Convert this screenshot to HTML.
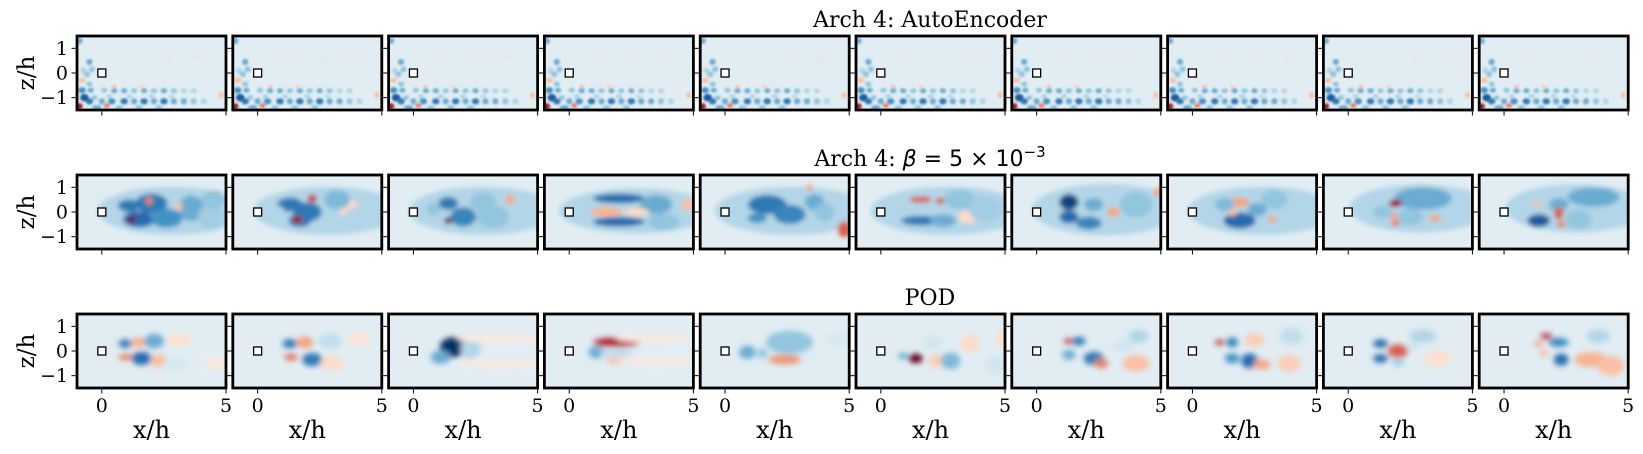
<!DOCTYPE html>
<html><head><meta charset="utf-8">
<style>
html,body{margin:0;padding:0;background:#fff;}
svg{display:block;font-family:"DejaVu Serif","Liberation Serif",serif;}
</style></head>
<body>
<svg id="fig" width="1643" height="454" viewBox="0 0 1643 454" xmlns="http://www.w3.org/2000/svg">
<defs>
<filter id="b1" x="-20%" y="-20%" width="140%" height="140%"><feGaussianBlur stdDeviation="1.0"/></filter>
<filter id="b2" x="-20%" y="-20%" width="140%" height="140%"><feGaussianBlur stdDeviation="2.4"/></filter>
<filter id="b3" x="-20%" y="-20%" width="140%" height="140%"><feGaussianBlur stdDeviation="3.0"/></filter>
</defs>
<text x="930" y="27" font-size="22" text-anchor="middle">Arch 4: AutoEncoder</text>
<text x="930" y="166" font-size="22" text-anchor="middle">Arch 4: <tspan font-style="italic" font-family="DejaVu Sans,sans-serif">β</tspan><tspan font-family="DejaVu Sans,sans-serif"> = 5 × 10</tspan><tspan font-family="DejaVu Sans,sans-serif" font-size="15" dy="-9">−3</tspan></text>
<text x="930" y="305" font-size="22" text-anchor="middle">POD</text>
</svg>
<script>
// blob data: [x/h, z/h, rx, rz, value]
const rowTitles = ["autoencoder","beta","pod"];
const xTicks = [0,5];
const zTicks = [1,0,-1];
const zTickLabels = ["1","0","−1"];
const xTickLabels = ["0","5"];
const bgValue = -0.17;

const aeBlobs = [
 [-0.9,1.3,0.1,0.1,-0.6],[-0.5,0.45,0.1,0.1,-0.6],[-0.4,0.15,0.1,0.1,-0.5],[-0.75,0.1,0.1,0.1,-0.4],[-0.6,-0.05,0.1,0.1,-0.5],
 [-0.8,-0.3,0.12,0.08,0.4],[-0.5,-0.45,0.1,0.08,-0.5],
 [-0.8,-0.7,0.12,0.1,-0.7],[-0.45,-0.7,0.1,0.08,-0.6],[0.1,-0.7,0.1,0.08,-0.5],[0.5,-0.72,0.1,0.08,-0.6],[0.9,-0.72,0.1,0.08,-0.6],[1.3,-0.72,0.1,0.08,-0.5],[1.7,-0.72,0.1,0.08,-0.6],[2.1,-0.72,0.1,0.08,-0.5],[2.5,-0.72,0.1,0.08,-0.6],[2.9,-0.72,0.1,0.08,-0.5],[3.3,-0.72,0.1,0.08,-0.4],[3.7,-0.72,0.1,0.08,-0.4],
 [-0.7,-1.0,0.14,0.12,-0.9],[-0.3,-1.0,0.1,0.08,-0.5],[0.3,-0.95,0.1,0.08,-0.4],[1.1,-0.95,0.1,0.08,-0.4],[2.0,-0.95,0.1,0.08,-0.4],[2.8,-0.95,0.1,0.08,-0.35],
 [-0.5,-1.15,0.12,0.1,-0.8],[0.0,-1.15,0.1,0.1,-0.6],[0.4,-1.15,0.12,0.1,-0.7],[0.9,-1.15,0.12,0.1,-0.8],[1.3,-1.15,0.1,0.1,-0.6],[1.7,-1.15,0.12,0.1,-0.8],[2.1,-1.15,0.1,0.1,-0.6],[2.5,-1.15,0.12,0.1,-0.8],[2.9,-1.15,0.1,0.1,-0.6],[3.3,-1.15,0.1,0.1,-0.6],[3.7,-1.15,0.1,0.1,-0.5],[4.1,-1.15,0.1,0.1,-0.4],
 [-0.9,-1.35,0.1,0.1,0.9],[0.2,-1.32,0.1,0.08,0.6],[-0.2,-1.4,0.15,0.08,-0.6],[0.7,-1.4,0.12,0.08,-0.5],[1.5,-1.4,0.12,0.08,-0.5],[2.3,-1.4,0.12,0.08,-0.5],
 [0.5,-0.55,0.08,0.05,0.4],[1.6,-0.55,0.08,0.05,0.35],[2.7,0.55,0.1,0.04,0.3],[3.8,0.6,0.1,0.04,0.3],[1.2,0.55,0.1,0.04,0.25],[4.8,-0.9,0.08,0.1,0.4]
];

const betaBlobs = [
 [[2.8,0.05,2.3,0.75,-0.4],[1.1,0.25,0.35,0.2,-0.8],[2.0,0.35,0.5,0.3,-0.8],[1.5,-0.3,0.5,0.25,-0.85],[2.6,-0.25,0.5,0.3,-0.7],[3.6,0.15,0.4,0.4,-0.6],[1.9,0.45,0.12,0.12,0.6],[1.2,-0.3,0.15,0.1,1.0],[3.1,0.2,0.12,0.12,0.4],[0.6,0.0,0.15,0.15,-0.4],[4.4,-0.2,0.4,0.4,-0.45],[4.5,0.5,0.35,0.3,-0.5]],
 [[2.8,0.05,2.3,0.75,-0.4],[1.3,0.3,0.4,0.22,-0.8],[2.0,0.0,0.45,0.3,-0.8],[1.7,-0.35,0.35,0.2,-0.8],[2.2,0.55,0.15,0.12,0.8],[1.6,-0.3,0.15,0.12,0.9],[3.7,0.1,0.3,0.3,0.3],[4.1,-0.3,0.5,0.4,-0.4],[0.8,0.0,0.2,0.2,-0.4],[3.2,0.5,0.4,0.3,-0.55]],
 [[2.8,0.05,2.3,0.75,-0.4],[1.4,0.35,0.3,0.2,-0.8],[2.0,-0.2,0.4,0.3,-0.75],[1.4,-0.35,0.12,0.1,1.0],[3.2,-0.2,0.5,0.35,-0.5],[3.9,0.5,0.15,0.15,0.5],[2.8,0.4,0.4,0.3,-0.5],[0.8,0.1,0.2,0.2,-0.5]],
 [[2.7,0.05,2.4,0.7,-0.4],[2.0,0.55,0.8,0.15,-0.85],[2.0,-0.4,0.8,0.15,-0.85],[1.5,0.0,0.5,0.15,0.45],[3.5,0.3,0.5,0.3,-0.6],[4.8,0.3,0.2,0.2,0.4],[2.7,0.0,0.4,0.12,0.3],[3.8,-0.4,0.5,0.25,-0.5]],
 [[2.7,0.05,2.4,0.75,-0.4],[1.7,0.3,0.6,0.3,-0.8],[2.6,-0.1,0.5,0.3,-0.75],[1.3,-0.25,0.3,0.15,-0.7],[3.6,0.4,0.3,0.25,-0.6],[4.8,-0.7,0.2,0.25,0.7],[3.4,1.0,0.1,0.1,0.5],[4.0,0.0,0.3,0.3,-0.5]],
 [[2.7,0.05,2.4,0.75,-0.4],[1.6,0.5,0.35,0.1,0.7],[2.4,0.45,0.15,0.1,0.7],[1.6,-0.35,0.6,0.15,-0.8],[2.5,-0.35,0.4,0.2,-0.6],[3.2,0.5,0.5,0.3,-0.5],[3.5,-0.2,0.3,0.2,0.3],[0.9,0.1,0.2,0.2,-0.4],[4.2,0.1,0.5,0.4,-0.45]],
 [[2.8,0.1,2.3,0.8,-0.4],[1.3,0.4,0.3,0.25,-0.95],[1.3,-0.2,0.3,0.2,-0.85],[2.1,-0.45,0.4,0.2,-0.75],[2.3,0.3,0.3,0.2,-0.6],[3.1,0.0,0.2,0.15,0.5],[4.9,0.8,0.15,0.15,0.5],[4.0,0.3,0.5,0.4,-0.5]],
 [[2.8,0.05,2.3,0.75,-0.4],[1.9,0.4,0.3,0.15,0.5],[1.9,-0.35,0.5,0.25,-0.85],[2.6,0.1,0.3,0.2,-0.6],[3.3,0.5,0.4,0.3,-0.5],[3.2,-0.3,0.15,0.1,0.5],[1.6,0.0,0.15,0.12,0.4],[1.3,0.3,0.3,0.2,-0.55]],
 [[2.9,0.15,2.2,0.75,-0.4],[3.0,0.55,0.9,0.35,-0.6],[1.9,0.35,0.2,0.12,0.9],[1.8,-0.15,0.2,0.1,0.5],[1.9,-0.45,0.15,0.1,0.6],[3.5,-0.25,0.2,0.1,0.5],[1.4,0.0,0.3,0.2,-0.5],[2.5,-0.2,0.4,0.25,-0.5]],
 [[2.9,0.15,2.2,0.75,-0.4],[3.6,0.6,0.8,0.3,-0.6],[2.2,0.3,0.3,0.2,-0.6],[1.4,-0.35,0.35,0.2,-0.9],[2.2,-0.05,0.15,0.2,0.7],[2.3,-0.5,0.15,0.1,0.6],[1.3,0.35,0.1,0.1,0.4],[3.0,-0.3,0.4,0.3,-0.5]]
];

const podBlobs = [
 [[0.95,0.3,0.2,0.13,-0.8],[1.5,0.35,0.25,0.15,0.45],[2.1,0.4,0.3,0.22,-0.6],[3.1,0.45,0.35,0.2,0.25],[0.95,-0.25,0.2,0.1,0.6],[1.6,-0.3,0.3,0.2,-0.85],[2.3,-0.4,0.25,0.2,0.4],[3.0,-0.55,0.4,0.2,-0.25],[4.6,-0.5,0.3,0.2,0.15]],
 [[1.3,0.3,0.22,0.14,-0.8],[1.9,0.35,0.25,0.18,0.5],[2.9,0.4,0.35,0.22,-0.35],[4.1,0.5,0.35,0.2,0.2],[1.35,-0.25,0.2,0.1,0.65],[2.2,-0.35,0.3,0.2,-0.8],[3.0,-0.5,0.35,0.2,0.3]],
 [[1.6,0.15,0.4,0.3,-1.0],[1.1,-0.25,0.3,0.2,-0.6],[2.3,0.1,0.3,0.3,-0.4],[3.5,0.5,1.3,0.12,0.15],[3.5,-0.5,1.3,0.12,0.15]],
 [[1.9,0.35,0.7,0.14,0.85],[1.1,-0.05,0.25,0.18,-0.6],[1.9,-0.1,0.5,0.15,-0.35],[1.9,-0.4,0.3,0.1,0.4],[3.5,0.5,1.2,0.12,0.15],[3.5,-0.4,1.2,0.12,0.15]],
 [[2.6,0.35,0.7,0.35,-0.5],[0.9,-0.05,0.25,0.2,-0.6],[1.5,-0.1,0.15,0.15,-0.5],[2.4,-0.35,0.5,0.14,0.55],[4.6,0.5,0.4,0.2,-0.25],[3.5,-0.2,0.3,0.2,-0.2]],
 [[1.4,-0.3,0.22,0.14,1.0],[0.9,-0.2,0.15,0.1,-0.6],[2.2,-0.4,0.2,0.2,0.35],[2.8,-0.4,0.3,0.25,-0.55],[3.6,0.3,0.3,0.25,0.3],[5.0,0.5,0.3,0.3,0.25],[2.1,0.35,0.3,0.2,-0.3],[4.6,-0.6,0.3,0.3,-0.3]],
 [[1.3,0.4,0.15,0.08,0.8],[1.7,0.4,0.2,0.13,-0.8],[1.3,-0.15,0.2,0.15,-0.6],[2.3,-0.3,0.3,0.2,-0.8],[2.6,-0.5,0.2,0.15,0.6],[4.0,-0.5,0.4,0.25,0.4],[4.1,0.6,0.3,0.2,-0.4],[3.5,0.2,0.3,0.2,-0.3]],
 [[1.1,0.35,0.15,0.08,0.8],[1.6,0.35,0.18,0.15,-0.75],[2.5,0.45,0.3,0.2,0.35],[1.6,-0.3,0.22,0.15,-0.7],[2.3,-0.4,0.25,0.22,-0.85],[2.8,-0.55,0.25,0.15,0.5],[3.9,-0.5,0.35,0.25,0.35],[4.0,0.6,0.35,0.25,-0.35]],
 [[1.3,0.3,0.22,0.13,-0.85],[1.3,-0.3,0.22,0.13,-0.85],[2.0,0.0,0.3,0.2,0.7],[2.0,-0.45,0.2,0.12,-0.45],[3.0,0.6,0.4,0.2,-0.4],[3.6,-0.3,0.4,0.25,0.25],[2.6,0.2,0.2,0.15,-0.3]],
 [[1.7,0.6,0.18,0.08,0.85],[2.2,0.35,0.3,0.13,-0.75],[1.4,0.3,0.15,0.08,0.5],[2.3,-0.35,0.22,0.18,-0.85],[1.6,-0.1,0.15,0.1,0.4],[3.5,-0.35,0.5,0.22,0.45],[4.3,-0.6,0.4,0.3,0.4],[3.8,0.6,0.35,0.2,-0.4]]
];

const NS = "http://www.w3.org/2000/svg";
const svg = document.getElementById("fig");
const panelLeft0 = 77, panelStep = 155.8, panelW = 149, panelH = 74;
const rowTop = [36, 175, 314];
const rowBlobScale = [1.25, 1.3, 1.35];
const xMin = -1, xMax = 5, zMin = -1.5, zMax = 1.5;

const stopsNeg = [[0,[247,247,247]],[0.3,[209,229,240]],[0.5,[146,197,222]],[0.7,[67,147,195]],[0.87,[33,102,172]],[1,[5,48,97]]];
const stopsPos = [[0,[247,247,247]],[0.3,[253,219,199]],[0.5,[244,165,130]],[0.7,[214,96,77]],[0.87,[178,24,43]],[1,[103,0,31]]];
function cmap(v){
  const s = v < 0 ? stopsNeg : stopsPos; const a = Math.min(1, Math.abs(v));
  for (let i = 1; i < s.length; i++) {
    if (a <= s[i][0]) {
      const t = (a - s[i-1][0]) / (s[i][0] - s[i-1][0]);
      const c = s[i-1][1].map((c0, k) => Math.round(c0 + t * (s[i][1][k] - c0)));
      return "rgb(" + c.join(",") + ")";
    }
  }
  return "rgb(" + s[s.length-1][1].join(",") + ")";
}
function el(tag, attrs){ const e = document.createElementNS(NS, tag); for (const k in attrs) e.setAttribute(k, attrs[k]); return e; }

for (let r = 0; r < 3; r++) {
  for (let c = 0; c < 10; c++) {
    const L = panelLeft0 + c * panelStep, T = rowTop[r];
    const sx = x => L + (x - xMin) / (xMax - xMin) * panelW;
    const sz = z => T + (zMax - z) / (zMax - zMin) * panelH;
    const sw = w => w * rowBlobScale[r] / (xMax - xMin) * panelW;
    const sh = h => h * rowBlobScale[r] / (zMax - zMin) * panelH;
    const g = el("g", {});
    
    
    const clipId = "clip" + r + "_" + c;
    const cp = el("clipPath", {id: clipId}); cp.appendChild(el("rect", {x: L, y: T, width: panelW, height: panelH}));
    g.appendChild(cp);
    const inner = el("g", {"clip-path": "url(#" + clipId + ")"});
    inner.appendChild(el("rect", {x: L, y: T, width: panelW, height: panelH, fill: cmap(bgValue)}));
    const blobs = r === 0 ? aeBlobs : (r === 1 ? betaBlobs[c] : podBlobs[c]);
    const bg = el("g", {filter: "url(#" + (r === 0 ? "b1" : (r === 1 ? "b2" : "b3")) + ")"});
    blobs.forEach(b => {
      const e = el("ellipse", {cx: sx(b[0]), cy: sz(b[1]), rx: sw(b[2]), ry: sh(b[3]), fill: cmap(b[4])});
      
      
      bg.appendChild(e);
    });
    inner.appendChild(bg);
    g.appendChild(inner);
    const sq = el("rect", {x: sx(0) - 4, y: sz(0) - 4, width: 8, height: 8, fill: "#fff", stroke: "#000", "stroke-width": 1.3});
    
    
    g.appendChild(sq);
    const frame = el("rect", {x: L, y: T, width: panelW, height: panelH, fill: "none", stroke: "#000", "stroke-width": 2.8});
    
    
    g.appendChild(frame);
    zTicks.forEach((z, i) => {
      g.appendChild(el("line", {x1: L - 1.4, x2: L - 5.5, y1: sz(z), y2: sz(z), stroke: "#000", "stroke-width": 1}));
      if (c === 0) {
        const t = el("text", {x: L - 9, y: sz(z) + 6.5, "font-size": 19, "text-anchor": "end"});
        
        
        t.textContent = zTickLabels[i]; g.appendChild(t);
      }
    });
    xTicks.forEach((x, i) => {
      g.appendChild(el("line", {x1: sx(x), x2: sx(x), y1: T + panelH + 1.4, y2: T + panelH + 5.5, stroke: "#000", "stroke-width": 1}));
      if (r === 2) {
        const t = el("text", {x: sx(x), y: 412, "font-size": 19, "text-anchor": "middle"});
        
        
        t.textContent = xTickLabels[i]; g.appendChild(t);
      }
    });
    if (r === 2) {
      const t = el("text", {x: L + panelW / 2, y: 438, "font-size": 24, "text-anchor": "middle"});
      
      
      t.textContent = "x/h"; g.appendChild(t);
    }
    if (c === 0) {
      const cy = T + panelH / 2;
      const t = el("text", {x: 0, y: 0, "font-size": 23, "text-anchor": "middle", transform: "translate(34," + cy + ") rotate(-90)"});
      
      
      t.textContent = "z/h"; g.appendChild(t);
    }
    svg.appendChild(g);
  }
}
</script>
</body></html>
